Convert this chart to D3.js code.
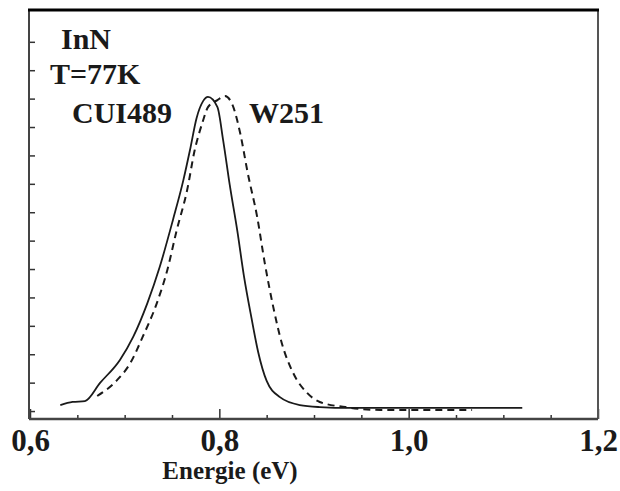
<!DOCTYPE html>
<html>
<head>
<meta charset="utf-8">
<script src="https://cdn.jsdelivr.net/npm/d3@7"></script>
</head>
<body style="margin:0;background:#fff">
<svg id="chart" width="620" height="491"></svg>
<script>
// ---- data ----
const cui489Energy = [0.632, 0.645, 0.658, 0.674, 0.695, 0.709, 0.724, 0.737, 0.751, 0.762, 0.769, 0.776, 0.783, 0.788, 0.798, 0.804, 0.811, 0.819, 0.826, 0.834, 0.841, 0.850, 0.864, 0.885, 0.906, 0.938, 0.970, 1.044, 1.120];
const cui489Intensity = [0.21, 0.32, 0.35, 0.99, 1.80, 2.61, 3.80, 5.07, 6.73, 8.13, 9.19, 10.32, 10.92, 11.06, 10.70, 9.54, 7.96, 6.34, 4.75, 3.27, 2.08, 1.06, 0.49, 0.21, 0.14, 0.11, 0.11, 0.11, 0.11];
const w251Energy = [0.671, 0.692, 0.706, 0.719, 0.734, 0.745, 0.755, 0.766, 0.774, 0.782, 0.788, 0.798, 0.806, 0.814, 0.822, 0.830, 0.840, 0.848, 0.857, 0.866, 0.878, 0.893, 0.906, 0.933, 0.970, 1.012, 1.067];
const w251Intensity = [0.53, 1.09, 1.69, 2.61, 3.80, 4.96, 6.37, 7.78, 9.19, 10.14, 10.70, 10.95, 11.09, 10.77, 9.79, 8.38, 6.83, 5.21, 3.66, 2.39, 1.34, 0.63, 0.32, 0.14, 0.04, 0.04, 0.04];
const xMajorTicks = [0.6, 0.8, 1.0, 1.2];
const xMajorLabels = ["0,6", "0,8", "1,0", "1,2"];
const xMinorTicks = [0.65, 0.7, 0.75, 0.85, 0.9, 0.95, 1.05, 1.1, 1.15];
const yTicks = [0, 1, 2, 3, 4, 5, 6, 7, 8, 9, 10, 11, 12, 13];
const xTitle = "Energie (eV)";
const annotations = ["InN", "T=77K", "CUI489", "W251"];

// ---- layout ----
const svg = d3.select("#chart");
const frame = { left: 29, right: 598, top: 10, bottom: 419 };
const x = d3.scaleLinear().domain([0.6, 1.2]).range([30, 598]);
const y = d3.scaleLinear().domain([-0.28, 14.12]).range([frame.bottom, frame.top]);
const ink = "#1a1a1a";
const serifFamily = '"Liberation Serif"';

// left axis ticks (inward)
const yAxis = svg.append("g")
  .attr("transform", `translate(${frame.left},0)`)
  .call(d3.axisLeft(y).tickValues(yTicks).tickSize(-6).tickFormat(""));
yAxis.select(".domain").remove();
yAxis.selectAll("line").attr("stroke", "#333").attr("stroke-width", 1.5);

// bottom minor ticks
const xMinor = svg.append("g")
  .attr("transform", `translate(0,${frame.bottom})`)
  .call(d3.axisBottom(x).tickValues(xMinorTicks).tickSize(-4).tickFormat(""));
xMinor.select(".domain").remove();
xMinor.selectAll("line").attr("stroke", "#333").attr("stroke-width", 1.5);

// bottom major ticks + labels
const xMajor = svg.append("g")
  .attr("transform", `translate(0,${frame.bottom})`)
  .call(d3.axisBottom(x).tickValues(xMajorTicks).tickSize(-10).tickPadding(10)
    .tickFormat((d, i) => xMajorLabels[i]));
xMajor.select(".domain").remove();
xMajor.attr("font-family", serifFamily).attr("font-size", 31).attr("font-weight", "bold");
xMajor.selectAll("line").attr("stroke", "#333").attr("stroke-width", 1.5);
xMajor.selectAll("text").attr("fill", ink);

// frame
svg.append("line").attr("x1", frame.left).attr("x2", frame.left)
  .attr("y1", frame.top).attr("y2", frame.bottom)
  .attr("stroke", "#444").attr("stroke-width", 2);
svg.append("line").attr("x1", frame.right).attr("x2", frame.right)
  .attr("y1", frame.top).attr("y2", frame.bottom)
  .attr("stroke", "#555").attr("stroke-width", 2);
svg.append("line").attr("x1", frame.left).attr("x2", frame.right)
  .attr("y1", frame.bottom).attr("y2", frame.bottom)
  .attr("stroke", "#444").attr("stroke-width", 2.5);
svg.append("line").attr("x1", frame.left - 1).attr("x2", frame.right + 1)
  .attr("y1", frame.top).attr("y2", frame.top)
  .attr("stroke", "#000").attr("stroke-width", 3);

// curves
const line = d3.line()
  .x(d => x(d[0]))
  .y(d => y(d[1]))
  .curve(d3.curveMonotoneX);

svg.append("path")
  .datum(d3.zip(w251Energy, w251Intensity))
  .attr("d", line)
  .attr("fill", "none")
  .attr("stroke", ink)
  .attr("stroke-width", 2)
  .attr("stroke-dasharray", "7,5");

svg.append("path")
  .datum(d3.zip(cui489Energy, cui489Intensity))
  .attr("d", line)
  .attr("fill", "none")
  .attr("stroke", ink)
  .attr("stroke-width", 1.8);

// annotations
const labelPos = [[61, 49], [50, 84], [72, 123], [249, 123]];
svg.selectAll("text.annot")
  .data(annotations)
  .enter().append("text")
  .attr("class", "annot")
  .attr("x", (d, i) => labelPos[i][0])
  .attr("y", (d, i) => labelPos[i][1])
  .attr("fill", ink)
  .attr("font-family", serifFamily)
  .attr("font-weight", "bold")
  .attr("font-size", 30)
  .text(d => d);

// x title
svg.append("text")
  .attr("x", 230)
  .attr("y", 479)
  .attr("text-anchor", "middle")
  .attr("fill", ink)
  .attr("font-family", serifFamily)
  .attr("font-weight", "bold")
  .attr("font-size", 25)
  .text(xTitle);
</script>
</body>
</html>
